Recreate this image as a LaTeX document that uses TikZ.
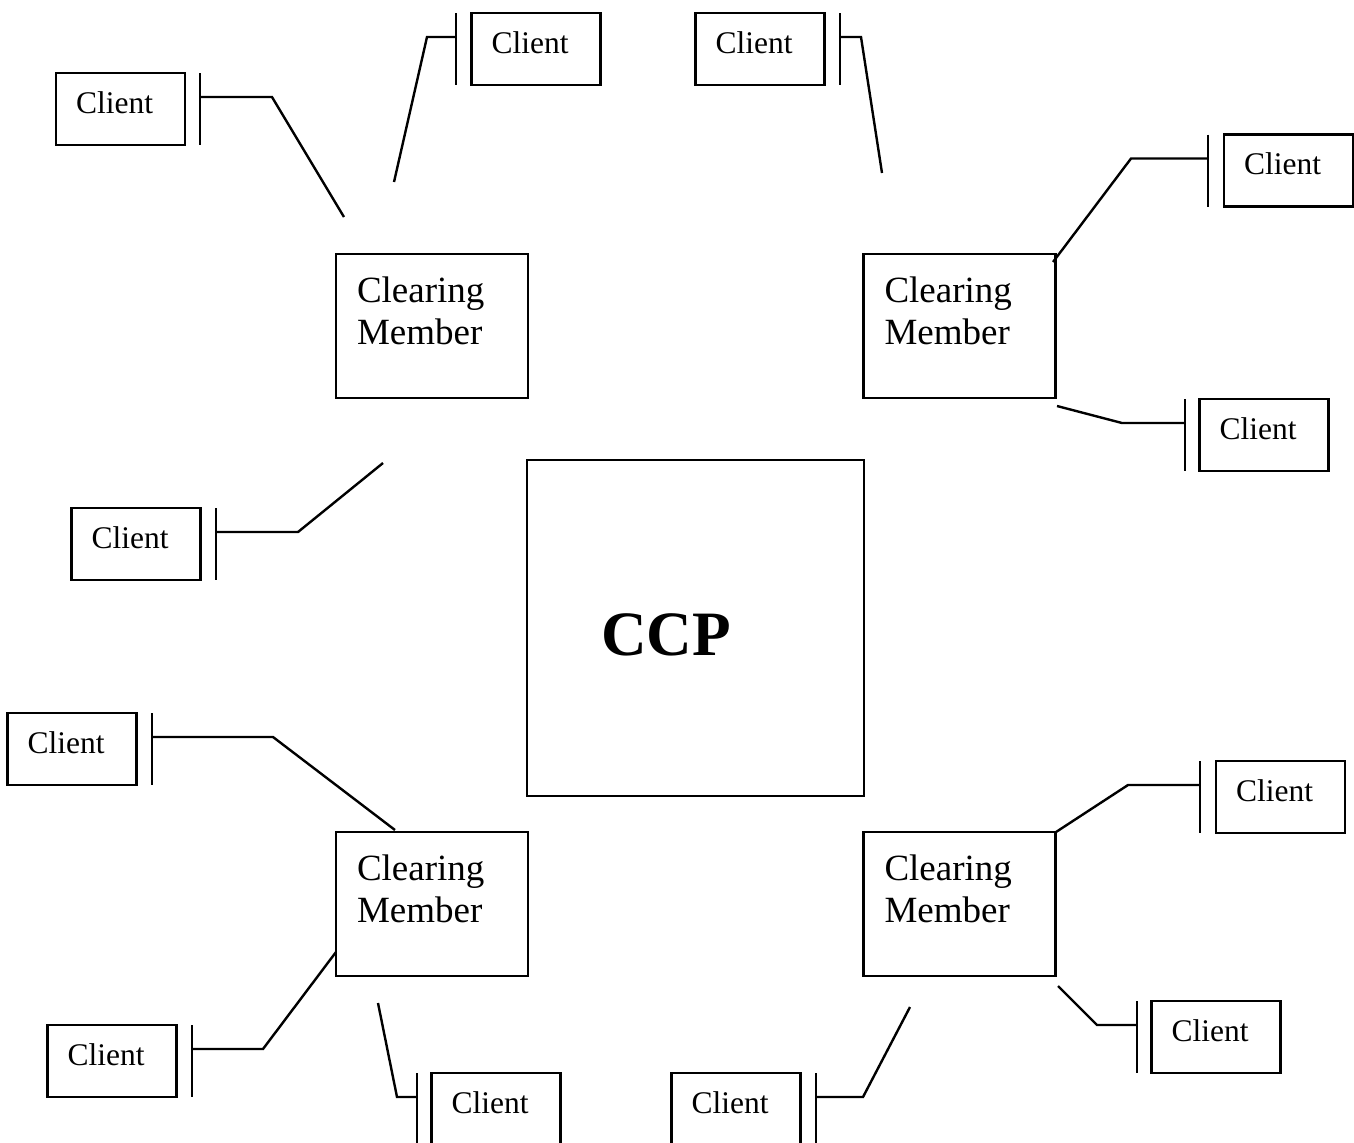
\documentclass[tikz,border=0pt]{standalone}
\usepackage{fontspec}
\setmainfont{Liberation Serif}
\usetikzlibrary{positioning}

\begin{document}
\begin{tikzpicture}[x=0.5pt,y=-0.5pt,line width=1.2pt,
    client/.style={draw,inner xsep=10pt,inner ysep=0pt,text width=44.5pt,align=left,
      text height=20pt,text depth=16pt,font=\fontsize{15.75}{18}\selectfont},
    member/.style={draw,inner xsep=10.5pt,inner ysep=0pt,text width=75pt,align=left,
      text height=24pt,text depth=48pt,font=\fontsize{18.5}{21}\selectfont},
    house/.style={draw,inner xsep=37pt,inner ysep=0pt,text width=94.5pt,align=left,
      text height=97.5pt,text depth=70.5pt,font=\fontsize{31.6}{36}\selectfont\bfseries}]
    \useasboundingbox (0,0) rectangle (1354,1142);

    % The CCP and the clearing members
    \node[house] (ccp) at (695.5,628) {CCP};
    \node[member] (m1) at (432,326) {Clearing\\Member};
    \node[member] (m2) at (959.5,326) {Clearing\\Member};
    \node[member] (m3) at (432,904) {Clearing\\Member};
    \node[member] (m4) at (959.5,904) {Clearing\\Member};

    % The clients: name/centre x/centre y/bar x/bend x/end x/end y
    \foreach \n/\cx/\cy/\bx/\kx/\ex/\ey in {
        c1/120.5/109/200/272/344/217, c2/536/49/456/427/394/182,
        c3/760/49/840/861/882/173, c4/1288.5/170.5/1208/1131/1053/262,
        c5/1264/435/1185/1122/1057/406, c6/136/544/216/298/383/463,
        c7/72/749/152/273/395/830, c8/112/1061/192/263/336/952,
        c9/496/1109/417/397/378/1003, c10/736/1109/816/863/910/1007,
        c11/1216/1037/1137/1097/1058/986, c12/1280.5/797/1200/1128/1056/832}
    {
        \node[client] (\n) at (\cx,\cy) {Client};
        \coordinate (\n-t) at (\bx,\cy-36);
        \coordinate (\n-b) at (\bx,\cy+36);
        \coordinate (\n-bar) at (\bx,\cy-12);
        \coordinate (\n-bend) at (\kx,\cy-12);
        \coordinate (\n-end) at (\ex,\ey);
        % Draw the bar and the line
        \draw (\n-t) -- (\n-b);
        \draw (\n-bar) -- (\n-bend) -- (\n-end);
    }
\end{tikzpicture}
\end{document}
